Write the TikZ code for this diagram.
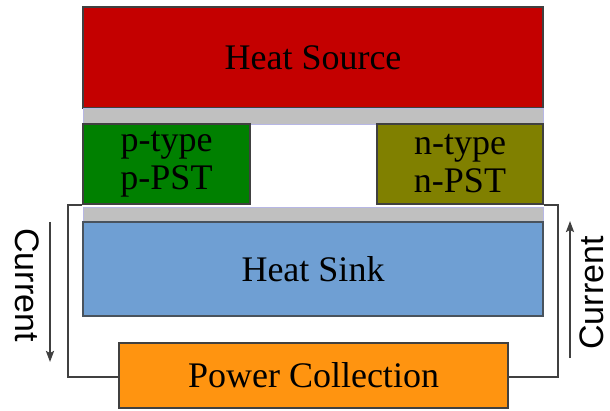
\documentclass[tikz,border=0pt]{standalone}
\usepackage{fontspec}
\setmainfont{Liberation Serif}
\newfontfamily\arialfont{Liberation Sans}
\usetikzlibrary{arrows.meta}
\definecolor{srcred}{HTML}{C40000}
\definecolor{pgreen}{HTML}{008000}
\definecolor{nolive}{HTML}{808000}
\definecolor{stripgray}{HTML}{C0C0C0}
\definecolor{sinkblue}{HTML}{6F9FD3}
\definecolor{pworange}{HTML}{FF9410}
\definecolor{edgegray}{HTML}{404040}
\tikzset{
  blk/.style={draw=edgegray, line width=2pt, rectangle, inner sep=0pt, align=center,
    font=\fontsize{36}{38}\selectfont},
  strip/.style={fill=stripgray, draw=stripgray!70!blue!60, line width=0.6pt, rectangle, inner sep=0pt},
  wire/.style={draw=edgegray, line width=2pt},
  curarrow/.style={draw=edgegray, line width=2pt, -{Stealth[length=11pt,width=8pt,inset=2pt]}},
  curtext/.style={font=\arialfont\fontsize{34}{40}\selectfont, inner sep=0pt}
}
\begin{document}
\begin{tikzpicture}[x=1pt,y=-1pt]
\useasboundingbox (0,0) rectangle (610,411);
\node[blk, fill=srcred, minimum width=460pt, minimum height=101pt] (src) at (313,57.5) {\raisebox{-3pt}{Heat Source}};
\node[strip, minimum width=460pt, minimum height=16pt] (s1) at (313,116) {};
\node[blk, fill=pgreen, minimum width=167pt, minimum height=80pt] (p) at (166.5,164) {p-type\\p-PST};
\node[blk, fill=nolive, minimum width=166pt, minimum height=80pt] (n) at (460,164) {n-type\\n-PST};
\node[strip, minimum width=460pt, minimum height=15pt] (s2) at (313,214.5) {};
\node[blk, draw=edgegray!80!sinkblue, line width=1.5pt, fill=sinkblue, minimum width=460pt, minimum height=94pt] (sink) at (313,269) {Heat Sink};
\node[blk, fill=pworange, minimum width=389pt, minimum height=65pt] (pw) at (313.5,375.5) {Power Collection};
\coordinate (lt) at (68,203);
\coordinate (lb) at (68,377);
\coordinate (rt) at (558,204);
\coordinate (rb) at (558,377);
\draw[wire] (p.south west -| p.west) -- (lt |- p.south west) -- (lb) -- (pw.west |- lb);
\draw[wire] (n.south east -| n.east) -- (rt |- n.south east) -- (rb) -- (pw.east |- rb);
% current arrows
\coordinate (la1) at (50,222);
\coordinate (la2) at (50,362);
\coordinate (ra1) at (570,358);
\coordinate (ra2) at (570,221);
\draw[curarrow] (la1) -- (la2);
\draw[curarrow] (ra1) -- (ra2);
\node[curtext, rotate=-90] (lc) at (27,285) {Current};
\node[curtext, rotate=90] (rc) at (592,293) {Current};
\end{tikzpicture}
\end{document}
